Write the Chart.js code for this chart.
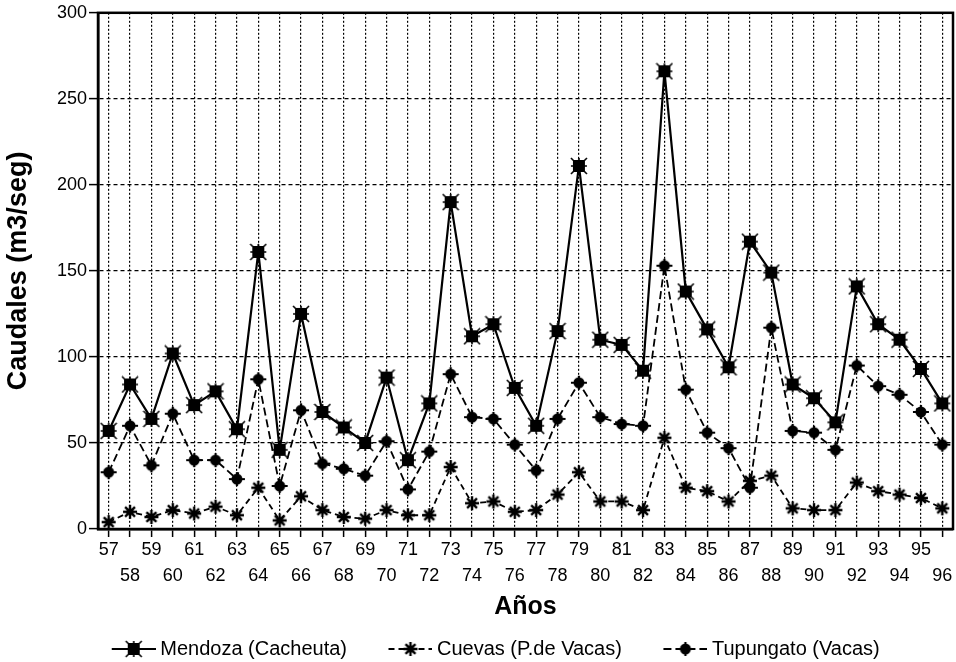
<!DOCTYPE html>
<html>
<head>
<meta charset="utf-8">
<script src="https://cdn.jsdelivr.net/npm/chart.js@4/dist/chart.umd.min.js"></script>
<style>
  html, body { margin: 0; padding: 0; background: #fff; }
  #c { display: block; }
</style>
</head>
<body>
<canvas id="c" width="956" height="662"></canvas>
<script>
// ---- data ----
const years = ['57','58','59','60','61','62','63','64','65','66','67','68','69','70','71','72','73','74','75','76',
               '77','78','79','80','81','82','83','84','85','86','87','88','89','90','91','92','93','94','95','96'];
const mendoza   = [57, 84, 64, 102, 72, 80, 58, 161, 46, 125, 68, 59, 50, 88, 40, 73, 190, 112, 119, 82,
                   60, 115, 211, 110, 107, 92, 266, 138, 116, 94, 167, 149, 84, 76, 62, 141, 119, 110, 93, 73];
const cuevas    = [4, 10, 7, 11, 9, 13, 8, 24, 5, 19, 11, 7, 6, 11, 8, 8, 36, 15, 16, 10,
                   11, 20, 33, 16, 16, 11, 53, 24, 22, 16, 28, 31, 12, 11, 11, 27, 22, 20, 18, 12];
const tupungato = [33, 60, 37, 67, 40, 40, 29, 87, 25, 69, 38, 35, 31, 51, 23, 45, 90, 65, 64, 49,
                   34, 64, 85, 65, 61, 60, 153, 81, 56, 47, 24, 117, 57, 56, 46, 95, 83, 78, 68, 49];
const seriesNames = ['Mendoza (Cacheuta)', 'Cuevas (P.de Vacas)', 'Tupungato (Vacas)'];
const yTicks = [0, 50, 100, 150, 200, 250, 300];
const yTitle = 'Caudales (m3/seg)';
const xTitle = 'Años';

// ---- marker glyphs ----
function drawMarker(g, kind, cx, cy) {
  g.save();
  g.fillStyle = '#000'; g.strokeStyle = '#000'; g.setLineDash([]);
  if (kind === 'sq') {
    g.fillRect(cx - 6, cy - 6, 12, 12);
    g.lineWidth = 1.6;
    g.beginPath();
    g.moveTo(cx - 8, cy - 8); g.lineTo(cx + 8, cy + 8);
    g.moveTo(cx + 8, cy - 8); g.lineTo(cx - 8, cy + 8);
    g.moveTo(cx, cy - 8); g.lineTo(cx, cy + 8);
    g.moveTo(cx - 8, cy); g.lineTo(cx + 8, cy);
    g.stroke();
  } else if (kind === 'ast') {
    g.lineWidth = 2.4;
    g.beginPath();
    for (let k = 0; k < 4; k++) {
      const a = k * Math.PI / 4;
      const dx = Math.cos(a) * 7, dy = Math.sin(a) * 7;
      g.moveTo(cx - dx, cy - dy); g.lineTo(cx + dx, cy + dy);
    }
    g.stroke();
    g.beginPath(); g.arc(cx, cy, 3.5, 0, Math.PI * 2); g.fill();
  } else {
    g.beginPath(); g.arc(cx, cy, 5.5, 0, Math.PI * 2); g.fill();
    g.lineWidth = 2.2;
    g.beginPath();
    g.moveTo(cx - 8, cy); g.lineTo(cx + 8, cy);
    g.moveTo(cx, cy - 7); g.lineTo(cx, cy + 7);
    g.stroke();
  }
  g.restore();
}
function markerImage(kind) {
  const c = document.createElement('canvas');
  c.width = 18; c.height = 18;
  drawMarker(c.getContext('2d'), kind, 9, 9);
  return c;
}
function legendSample(kind, dash, lw) {
  const blank = 44, w = 44;
  const c = document.createElement('canvas');
  c.width = blank + w; c.height = 18;
  const g = c.getContext('2d');
  g.strokeStyle = '#000'; g.lineWidth = lw; g.setLineDash(dash);
  g.beginPath(); g.moveTo(blank, 9); g.lineTo(blank + w, 9); g.stroke();
  drawMarker(g, kind, blank + w / 2, 9);
  return c;
}
const kinds = ['sq', 'ast', 'dia'];
const dashes = [[], [6, 4], [8, 4]];
const widths = [2.2, 1.8, 1.8];
const legendImgs = kinds.map((k, i) => legendSample(k, dashes[i], widths[i]));

const framePlugin = {
  id: 'frame',
  afterDatasetsDraw(chart) {
    const {ctx, chartArea: a} = chart;
    ctx.save();
    ctx.strokeStyle = '#000';
    ctx.lineWidth = 2.5;
    ctx.setLineDash([]);
    ctx.strokeRect(a.left, a.top, a.right - a.left, a.bottom - a.top);
    ctx.restore();
  }
};

const font = 'Liberation Sans, Arial, sans-serif';
const seriesData = [mendoza, cuevas, tupungato];

new Chart(document.getElementById('c'), {
  type: 'line',
  data: {
    labels: years,
    datasets: seriesData.map((d, i) => ({
      label: seriesNames[i],
      data: d,
      borderColor: '#000',
      backgroundColor: '#000',
      borderWidth: widths[i],
      borderDash: dashes[i],
      pointStyle: markerImage(kinds[i]),
      pointRadius: 7,
      tension: 0,
      fill: false,
      clip: false,
      order: i === 0 ? 0 : 1
    }))
  },
  options: {
    responsive: false,
    animation: false,
    devicePixelRatio: 1,
    layout: { autoPadding: false, padding: { left: 0, right: 3, top: 11, bottom: -7 } },
    plugins: {
      tooltip: { enabled: false },
      legend: {
        position: 'bottom',
        labels: {
          usePointStyle: true,
          pointStyleWidth: 77,
          padding: 3,
          color: '#000',
          font: { family: font, size: 20 },
          generateLabels(chart) {
            const items = Chart.defaults.plugins.legend.labels.generateLabels(chart);
            items.forEach((it) => { it.pointStyle = legendImgs[it.datasetIndex]; });
            return items;
          }
        }
      }
    },
    scales: {
      x: {
        type: 'category',
        offset: true,
        afterFit(scale) { scale.paddingRight = 0; scale.paddingLeft = 0; },
        grid: {
          offset: false,
          color: '#000',
          lineWidth: 1.2,
          tickLength: 8,
          tickWidth: 1.5,
          tickColor: '#000',
          tickBorderDash: []
        },
        border: { display: true, color: '#000', width: 2.5, dash: [2, 2] },
        ticks: {
          color: '#000',
          padding: 0,
          maxRotation: 0,
          autoSkip: false,
          font: { family: font, size: 18, lineHeight: 26 / 18 },
          callback(v, i) {
            const lab = years[i];
            return i % 2 === 0 ? [lab, ''] : ['', lab];
          }
        },
        title: {
          display: true,
          text: xTitle,
          color: '#000',
          font: { family: font, size: 25, weight: 'bold', lineHeight: 1.2 },
          padding: { top: 3, bottom: 14 }
        }
      },
      y: {
        min: 0,
        max: 300,
        afterFit(scale) { scale.width = 98; },
        afterBuildTicks(scale) { scale.ticks = yTicks.map(v => ({ value: v })); },
        grid: {
          color: '#000',
          lineWidth: 1.2,
          tickLength: 9,
          tickWidth: 1.5,
          tickColor: '#000',
          tickBorderDash: []
        },
        border: { display: true, color: '#000', width: 2.5, dash: [4, 3] },
        ticks: {
          color: '#000',
          padding: 2,
          font: { family: font, size: 18 }
        },
        title: {
          display: true,
          text: yTitle,
          color: '#000',
          font: { family: font, size: 27, weight: 'bold', lineHeight: 1.2 },
          padding: { top: 2, bottom: 0 }
        }
      }
    }
  },
  plugins: [framePlugin]
});
</script>
</body>
</html>
